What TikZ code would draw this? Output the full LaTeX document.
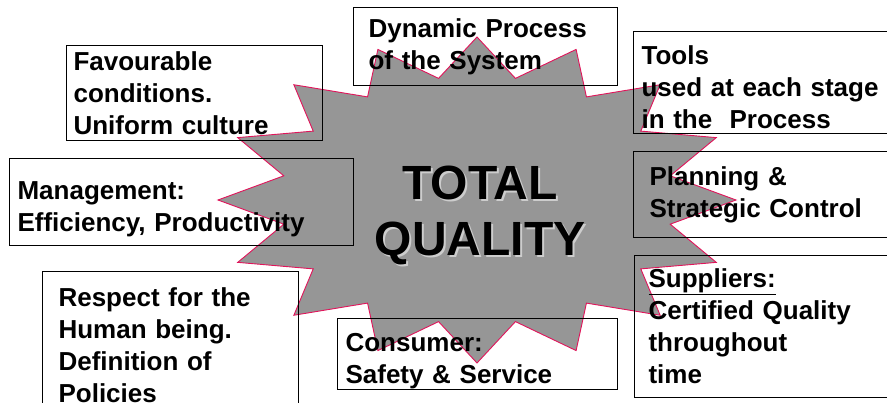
\documentclass[tikz,border=0pt]{standalone}
\usepackage{fontspec}
\setmainfont{Liberation Sans}
\definecolor{stargray}{RGB}{150,150,150}
\definecolor{staredge}{RGB}{225,20,90}
\definecolor{shadowgray}{RGB}{205,205,205}
\tikzset{
  box/.style={draw=black, line width=1.1pt, anchor=north west, align=left,
    inner xsep=8pt, inner ysep=0pt,
    font=\fontsize{26}{32}\selectfont\bfseries},
  pushdown/.style={execute at begin node={\rule{0pt}{#1}}},
  starline/.style={draw=staredge, fill=stargray, line width=0.9pt, line join=miter},
  title/.style={align=center, inner sep=0pt,
    font=\fontsize{48}{56}\selectfont\bfseries}
}
\begin{document}
\begin{tikzpicture}[x=1pt,y=-1pt]
\useasboundingbox (0,0) rectangle (887,403);
\clip (0,0) rectangle (887,403);

% the star, 16 points
\begin{scope}[shift={(477,200)}]
\draw[starline] (90:259 and 163)
  \foreach \a in {0,22.5,...,337.5} {
    -- ({90+\a+11.25}:197 and 124) -- ({90+\a+22.5}:259 and 163)
  } -- cycle;
\end{scope}

\node[title, text=shadowgray] (titleshadow) at (482,217) {TOTAL\\QUALITY};
\node[title] (title) at (480,215) {TOTAL\\QUALITY};

% boxes round the star
\node[box, inner xsep=15pt, text width=234pt, minimum height=78pt] (dyn) at (353,7)
  {Dynamic Process\\of the System};
\node[box, inner xsep=7pt, text width=242pt, minimum height=95pt] (fav) at (66,45)
  {Favourable\\conditions.\\Uniform culture};
\node[box, pushdown=32pt, text width=328pt, minimum height=87pt] (mgmt) at (9,158)
  {Management:\\Efficiency, Productivity};
\node[box, inner xsep=16pt, text width=224pt, minimum height=148pt] (resp) at (42,271)
  {Respect for the\\Human being.\\Definition of\\Policies};
\node[box, pushdown=32pt, text width=264pt, minimum height=71pt] (cons) at (337,318)
  {Consumer:\\Safety \& Service};
\node[box, pushdown=29pt, text width=254pt, minimum height=102pt] (tools) at (633,31)
  {Tools\\used at each stage\\in the\ \ Process};
\node[box, inner xsep=16pt, text width=238pt, minimum height=86pt] (plan) at (633,151)
  {Planning \&\\Strategic Control};
\node[box, inner xsep=14pt, text width=242pt, minimum height=142pt] (supp) at (634,255)
  {\underline{Suppliers:}\\Certified Quality\\throughout\\time};
\end{tikzpicture}
\end{document}
